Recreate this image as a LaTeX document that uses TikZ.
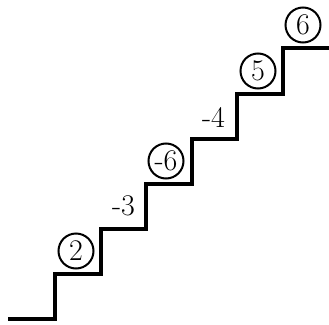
\documentclass[tikz,border=0pt]{standalone}
\begin{document}
\begin{tikzpicture}[x=1pt,y=-1pt,
  stair/.style={line width=4.5pt,line join=miter},
  num/.style={circle,draw,line width=2pt,inner sep=1pt,minimum size=35pt,font=\fontsize{30}{33}\selectfont},
  lab/.style={inner sep=0pt,font=\fontsize{30}{33}\selectfont}]
\useasboundingbox (0,0) rectangle (329,324);
\coordinate (s0) at (8,319);
\coordinate (s1) at (55,319);
\coordinate (s2) at (55,274);
\coordinate (s3) at (101,274);
\coordinate (s4) at (101,229);
\coordinate (s5) at (146,229);
\coordinate (s6) at (146,184);
\coordinate (s7) at (192,184);
\coordinate (s8) at (192,139);
\coordinate (s9) at (237,139);
\coordinate (s10) at (237,94);
\coordinate (s11) at (283,94);
\coordinate (s12) at (283,48);
\coordinate (s13) at (329,48);
\draw[stair] (s0) -- (s1) -- (s2) -- (s3) -- (s4) -- (s5) -- (s6) -- (s7) -- (s8) -- (s9) -- (s10) -- (s11) -- (s12) -- (s13);
\node[num] (n2) at (76,251) {2};
\node[num] (nm6) at (166,161) {-6};
\node[num] (n5) at (258,71) {5};
\node[num] (n6) at (303,25) {6};
\node[lab] (lm3) at (123.5,206) {-3};
\node[lab] (lm4) at (213.5,117) {-4};
\end{tikzpicture}
\end{document}
